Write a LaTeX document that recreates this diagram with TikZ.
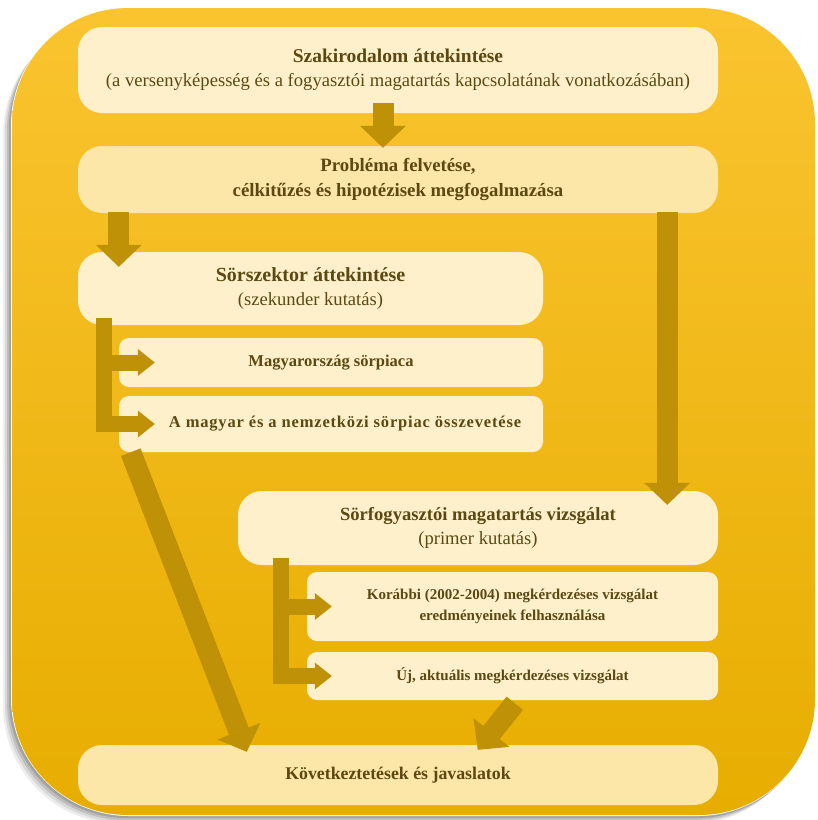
\documentclass[tikz,border=0pt]{standalone}
\usepackage{fontspec}
\setmainfont{Liberation Serif}
\usetikzlibrary{arrows.meta, positioning}
\definecolor{goldtop}{RGB}{250,196,48}
\definecolor{goldbot}{RGB}{231,173,0}
\definecolor{cream}{RGB}{254,240,202}
\definecolor{creamdeep}{RGB}{252,230,168}
\definecolor{arrowgold}{RGB}{190,145,6}
\definecolor{inkbrown}{RGB}{92,72,18}

\begin{document}
\begin{tikzpicture}[
  x=1pt, y=-1pt,
  stage/.style={rectangle, rounded corners=24pt, fill=cream, text=inkbrown,
                inner sep=0pt, align=center, font=\fontsize{18.6}{24}\selectfont},
  substage/.style={stage, rounded corners=10pt, font=\bfseries\fontsize{15}{21}\selectfont},
  flow/.style={draw=arrowgold, line width=21pt,
               -{Triangle[length=22pt, width=46pt, line width=0pt]}},
  branch/.style={draw=arrowgold, line width=16pt, line join=miter,
                 -{Triangle[length=17pt, width=27pt, line width=0pt]}}
]
  \useasboundingbox (0,0) rectangle (818,820);
  \foreach \d/\o in {9/0.07, 7/0.09, 5/0.12, 3/0.15}
    \fill[black, opacity=\o, rounded corners=118pt] (12-\d,8+\d) rectangle (815-\d+2,815+\d);
  \fill[white, rounded corners=118pt] (11,7) rectangle (816,816);
  \shade[top color=goldtop, bottom color=goldbot, rounded corners=116pt] (12,8) rectangle (815,815);

  \node[stage, minimum width=640pt, minimum height=86pt] (lit) at (398,70)
    {\textbf{\fontsize{19.5}{24}\selectfont Szakirodalom áttekintése}\\(a versenyképesség és a fogyasztói magatartás kapcsolatának vonatkozásában)};
  \node[stage, fill=creamdeep, minimum width=640pt, minimum height=67pt, font=\bfseries\fontsize{18.8}{25}\selectfont] (prob) at (398,179.5)
    {Probléma felvetése,\\célkitűzés és hipotézisek megfogalmazása};
  \node[stage, minimum width=465pt, minimum height=73pt] (sector) at (310.5,288.5)
    {\textbf{\fontsize{20}{24}\selectfont Sörszektor áttekintése}\\(szekunder kutatás)};
  \node[substage, minimum width=424pt, minimum height=49pt, font=\bfseries\fontsize{16.5}{21}\selectfont] (hu) at (331,362.5)
    {Magyarország sörpiaca};
  \node[substage, minimum width=424pt, minimum height=56pt,
        font=\bfseries\fontsize{16.5}{21}\selectfont\addfontfeatures{LetterSpace=5}] (cmp) at (331,424)
    {\hspace*{28pt}A magyar és a nemzetközi sörpiac összevetése};
  \node[stage, minimum width=480pt, minimum height=74pt] (cons) at (478,528)
    {\textbf{Sörfogyasztói magatartás vizsgálat}\\(primer kutatás)};
  \node[substage, minimum width=411pt, minimum height=69pt] (prev) at (512.5,606.5)
    {Korábbi (2002-2004) megkérdezéses vizsgálat\\eredményeinek felhasználása};
  \node[substage, minimum width=411pt, minimum height=48pt] (new) at (512.5,676)
    {Új, aktuális megkérdezéses vizsgálat};
  \node[stage, fill=creamdeep, minimum width=640pt, minimum height=60pt, font=\bfseries\fontsize{17.8}{23}\selectfont] (concl) at (398,775)
    {Következtetések és javaslatok};

  \draw[flow] ([xshift=-15pt, yshift=10pt]lit.south) -- ([xshift=-15pt, yshift=-2pt]prob.north);
  \draw[flow] ([xshift=41pt, yshift=1pt]prob.south west) -- ([xshift=41pt, yshift=-15pt]sector.north west);
  \draw[flow] ([xshift=-51pt, yshift=1pt]prob.south east) -- ([xshift=-51pt, yshift=-14pt]cons.north east);

  \coordinate (sectorbar) at ([xshift=26pt, yshift=7pt]sector.south west);
  \draw[branch] (sectorbar) |- ([xshift=36pt]cmp.west);
  \draw[branch] (sectorbar |- hu.west) -- ([xshift=36pt]hu.west);

  \coordinate (consbar) at ([xshift=43pt, yshift=7pt]cons.south west);
  \draw[branch] (consbar) |- ([xshift=25pt]new.west);
  \draw[branch] (consbar |- prev.west) -- ([xshift=25pt]prev.west);

  \draw[flow] ([xshift=12pt]cmp.south west) -- ([xshift=169pt, yshift=-7pt]concl.north west);
  \draw[flow] ([xshift=208pt, yshift=-3pt]new.south west) -- ([xshift=400pt, yshift=-5pt]concl.north west);
\end{tikzpicture}
\end{document}
